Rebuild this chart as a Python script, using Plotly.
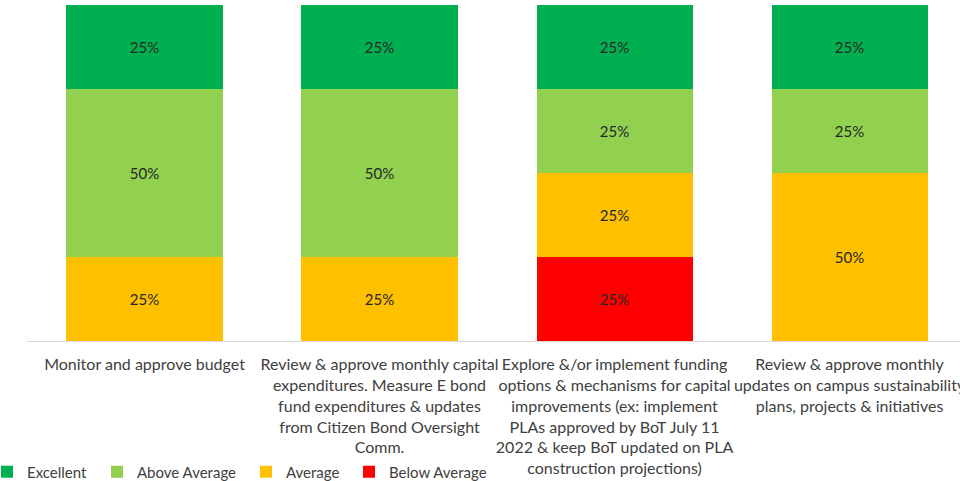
import plotly.graph_objects as go

categories = [
    "Monitor and approve budget",
    "Review & approve monthly capital<br>expenditures. Measure E bond<br>fund expenditures & updates<br>from Citizen Bond Oversight<br>Comm.",
    "Explore &/or implement funding<br>options & mechanisms for capital<br>improvements (ex: implement<br>PLAs approved by BoT July 11<br>2022 & keep BoT updated on PLA<br>construction projections)",
    "Review & approve monthly<br>updates on campus sustainability<br>plans, projects & initiatives",
]

below_average = [None, None, 0.25, None]
average = [0.25, 0.25, 0.25, 0.50]
above_average = [0.50, 0.50, 0.25, 0.25]
excellent = [0.25, 0.25, 0.25, 0.25]

# (name, values, colour, legend id, legend text start in px)
series = [
    ("Below Average", below_average, "#FF0000", "legend4", 385),
    ("Average", average, "#FFC000", "legend3", 282),
    ("Above Average", above_average, "#92D050", "legend2", 133),
    ("Excellent", excellent, "#00B050", "legend", 23),
]

font_family = "Lato, 'Liberation Sans', Arial, sans-serif"
W, H = 960, 481
ML, MT, MB = 27, 5, 140
plot_w = W - ML
plot_h = H - MT - MB

fig = go.Figure()
x_idx = list(range(len(categories)))
for name, vals, color, leg, _ in series:
    fig.add_trace(go.Bar(
        name=name, x=x_idx, y=vals,
        marker=dict(color=color, line=dict(width=0)),
        texttemplate="%{y:.0%}", textposition="inside",
        insidetextanchor="middle",
        textfont=dict(color="#262626", size=15, family=font_family),
        legend=leg, width=0.664,
    ))

layout_legends = {}
for name, vals, color, leg, text_px in series:
    left_px = text_px - 36
    layout_legends[leg] = dict(
        x=(left_px - ML) / plot_w, xref="paper", xanchor="left",
        y=-(472 - (H - MB)) / plot_h, yref="paper", yanchor="middle",
        orientation="h", bgcolor="rgba(0,0,0,0)",
        font=dict(size=15, color="#404040", family=font_family),
    )

fig.update_layout(
    width=W, height=H,
    barmode="stack",
    plot_bgcolor="white", paper_bgcolor="white",
    margin=dict(l=ML, r=0, t=MT, b=MB, autoexpand=False),
    font=dict(family=font_family, size=15, color="#404040"),
    xaxis=dict(
        range=[-0.5, 3.47], tickvals=x_idx, ticktext=categories,
        showgrid=False, zeroline=False, showline=True, automargin=False,
        linecolor="#D9D9D9", linewidth=1, ticks="", tickangle=0,
        ticklabelstandoff=9, ticklabeloverflow="allow",
        tickfont=dict(size=16, color="#404040", family=font_family),
    ),
    yaxis=dict(range=[0, 1], visible=False, showgrid=False),
    showlegend=True,
    **layout_legends,
)

fig.write_html("out.html", config={"displayModeBar": False},
               post_script="document.body.style.margin='0';")
